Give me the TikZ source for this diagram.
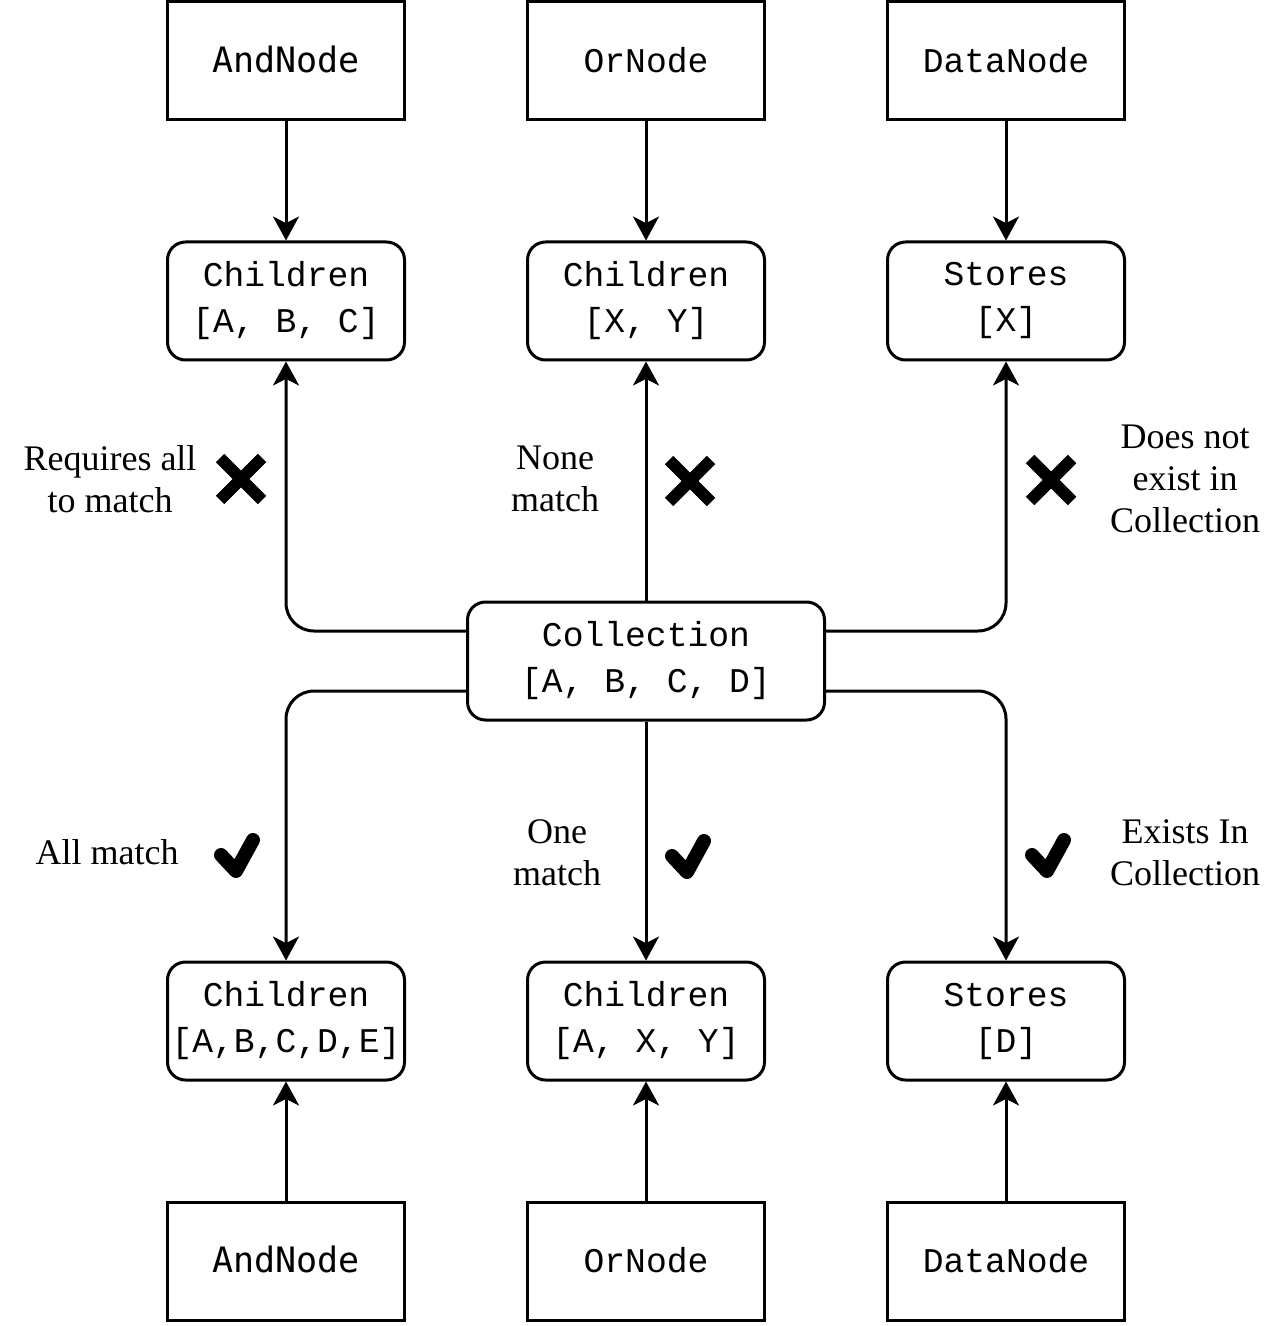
\documentclass[tikz,border=0pt]{standalone}
\usepackage{fontspec}
\setmainfont{Liberation Serif}
\newfontfamily\courfont{Liberation Mono}
\newfontfamily\dvmono{DejaVu Sans Mono}
\usetikzlibrary{arrows.meta}
\tikzset{
  sqbox/.style={draw, line width=2.25pt, minimum width=177.75pt, minimum height=88.5pt, inner sep=0pt},
  rbox/.style={draw, line width=2.25pt, rounded corners=13.5pt, minimum width=177.75pt, minimum height=88.5pt, inner sep=0pt, align=center, font=\courfont\fontsize{26}{34.5}\selectfont},
  monotxt/.style={font=\courfont\fontsize{26}{34.5}\selectfont},
  sanstxt/.style={font=\dvmono\fontsize{26.25}{32}\selectfont},
  lbl/.style={align=center, inner sep=0pt, font=\fontsize{27}{31.5}\selectfont},
  arr/.style={line width=2.25pt, -{Stealth[length=18pt, width=19.5pt, inset=5pt]}},
  conn/.style={arr, rounded corners=21pt},
  xmark/.style={line width=9pt, line cap=butt},
  chk/.style={line width=10.5pt, line cap=round, line join=round}
}
\begin{document}
\begin{tikzpicture}[x=0.75pt, y=-0.75pt]
\useasboundingbox (0,0) rectangle (1278,1326);
% top row
\node[sqbox, sanstxt] (and1) at (286,61) {\raisebox{2pt}{AndNode}};
\node[sqbox, monotxt] (or1) at (646,61) {\raisebox{1pt}{OrNode}};
\node[sqbox, monotxt] (data1) at (1006,61) {\raisebox{1pt}{DataNode}};
% second row
\node[rbox] (ch1) at (286,301) {Children\\{[A, B, C]}};
\node[rbox] (ch2) at (646,301) {Children\\{[X, Y]}};
\node[rbox] (st1) at (1006,301) {Stores\\{[X]}};
% collection
\node[rbox, minimum width=267.75pt] (coll) at (646,661) {Collection\\{[A, B, C, D]}};
% fourth row
\node[rbox] (ch4) at (286,1021) {Children\\{[A,B,C,D,E]}};
\node[rbox] (ch5) at (646,1021) {Children\\{[A, X, Y]}};
\node[rbox] (st2) at (1006,1021) {Stores\\{[D]}};
% bottom row
\node[sqbox, sanstxt] (and2) at (286,1261) {\raisebox{2pt}{AndNode}};
\node[sqbox, monotxt] (or2) at (646,1261) {\raisebox{1pt}{OrNode}};
\node[sqbox, monotxt] (data2) at (1006,1261) {\raisebox{1pt}{DataNode}};
% arrows top
\draw[arr] (and1) -- (ch1);
\draw[arr] (or1) -- (ch2);
\draw[arr] (data1) -- (st1);
% arrows bottom
\draw[arr] (and2) -- (ch4);
\draw[arr] (or2) -- (ch5);
\draw[arr] (data2) -- (st2);
% collection connectors
\draw[arr] (coll) -- (ch2);
\draw[arr] (coll) -- (ch5);
\draw[conn] ([yshift=22.5pt]coll.west) -| (ch1.south);
\draw[conn] ([yshift=22.5pt]coll.east) -| (st1.south);
\draw[conn] ([yshift=-22.5pt]coll.west) -| (ch4.north);
\draw[conn] ([yshift=-22.5pt]coll.east) -| (st2.north);
% labels
\node[lbl] (l1) at (110,479) {Requires all\\to match};
\node[lbl] (l2) at (555,479) {None\\match};
\node[lbl] (l3) at (1185,479) {Does not\\exist in\\Collection};
\node[lbl] (l4) at (107,852) {All match};
\node[lbl] (l5) at (557,853) {One\\match};
\node[lbl] (l6) at (1185,853) {Exists In\\Collection};
% cross marks
\foreach \cx/\cy in {241/479, 690/481, 1051/480} {
  \draw[xmark] (\cx-21,\cy-21) -- (\cx+21,\cy+21);
  \draw[xmark] (\cx-21,\cy+21) -- (\cx+21,\cy-21);
}
% check marks
\foreach \cx/\cy in {237/856, 688/857, 1048/856} {
  \draw[chk] (\cx-16,\cy-1) -- (\cx-1,\cy+15) -- (\cx+16,\cy-16);
}
\end{tikzpicture}
\end{document}
